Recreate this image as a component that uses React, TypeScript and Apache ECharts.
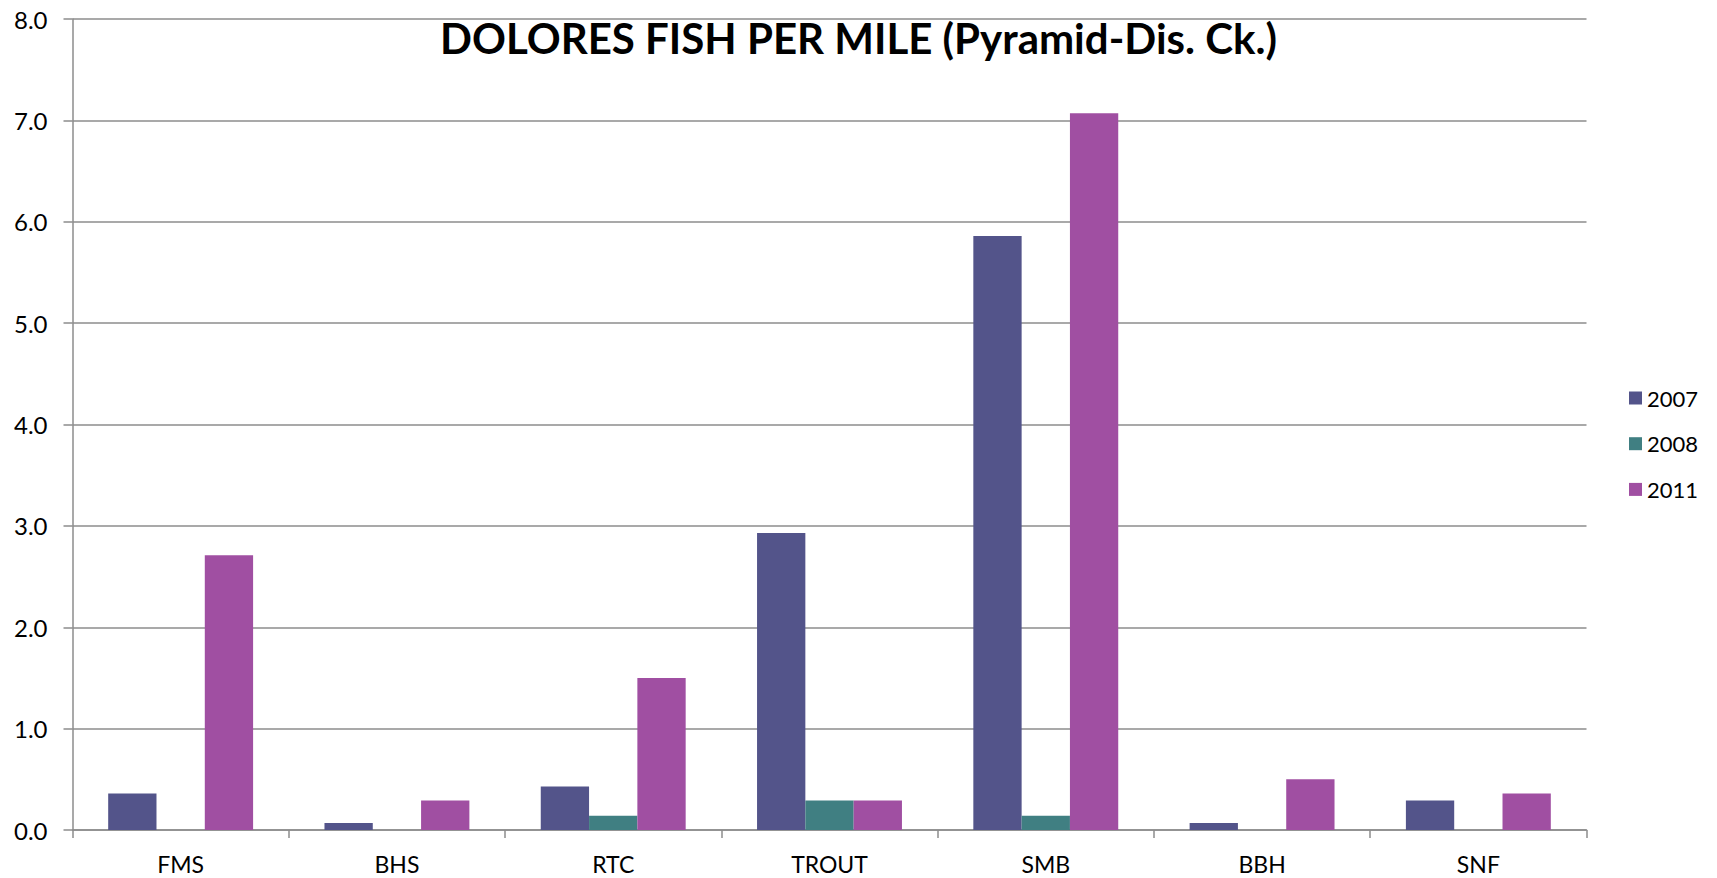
import React, { useEffect, useRef } from "react";
import * as echarts from "echarts";

const categories = ["FMS", "BHS", "RTC", "TROUT", "SMB", "BBH", "SNF"];
const seriesNames = ["2007", "2008", "2011"];
const values2007 = [0.36, 0.07, 0.43, 2.93, 5.86, 0.07, 0.29];
const values2008 = [0, 0, 0.14, 0.29, 0.14, 0, 0];
const values2011 = [2.71, 0.29, 1.5, 0.29, 7.07, 0.5, 0.36];
const seriesColors = ["#53548A", "#407F82", "#A04FA2"];
const titleText = "DOLORES FISH PER MILE (Pyramid-Dis. Ck.)";
const yMin = 0;
const yMax = 8;
const yInterval = 1;

export default function App() {
  const ref = useRef<HTMLDivElement>(null);
  useEffect(() => {
    if (!ref.current) return;
    const chart = echarts.init(ref.current, null, { renderer: "svg" });
    const font = "Lato, 'Open Sans', sans-serif";
    const allValues = [values2007, values2008, values2011];
    chart.setOption({
      animation: false,
      backgroundColor: "#ffffff",
      textStyle: { fontFamily: font },
      title: {
        text: titleText,
        left: "center",
        top: 12,
        textStyle: { fontFamily: font, fontWeight: "bold", fontSize: 42, color: "#000" },
      },
      legend: {
        orient: "vertical",
        left: 1624,
        top: 382,
        itemWidth: 13,
        itemHeight: 13,
        itemGap: 23.7,
        icon: "rect",
        textStyle: { fontFamily: font, fontSize: 22, color: "#000", lineHeight: 22 },
        data: seriesNames,
      },
      grid: { left: 72.5, right: 130.5, top: 19, bottom: 48, containLabel: false },
      xAxis: {
        type: "category",
        data: categories,
        boundaryGap: true,
        axisLine: { lineStyle: { color: "#8c8c8c", width: 1.5 } },
        axisTick: { show: true, length: 8, lineStyle: { color: "#8c8c8c", width: 1.5 } },
        axisLabel: { color: "#000", fontSize: 23, margin: 22, fontFamily: font },
      },
      yAxis: {
        type: "value",
        min: yMin,
        max: yMax,
        interval: yInterval,
        axisLine: { show: true, lineStyle: { color: "#8c8c8c", width: 1.5 } },
        axisTick: { show: true, length: 9, lineStyle: { color: "#8c8c8c", width: 1.5 } },
        axisLabel: {
          color: "#000",
          fontSize: 24,
          margin: 25,
          fontFamily: font,
          formatter: (v: number) => v.toFixed(1),
        },
        splitLine: { show: true, lineStyle: { color: "#8c8c8c", width: 1.5 } },
      },
      series: seriesNames.map((name, i) => ({
        name,
        type: "bar",
        data: allValues[i],
        barGap: "0%",
        barCategoryGap: "33%",
        itemStyle: { color: seriesColors[i] },
      })),
    });
    return () => chart.dispose();
  }, []);
  return (
    <div
      ref={ref}
      style={{ position: "fixed", left: 0, top: 0, width: 1717, height: 878, background: "#fff" }}
    />
  );
}
